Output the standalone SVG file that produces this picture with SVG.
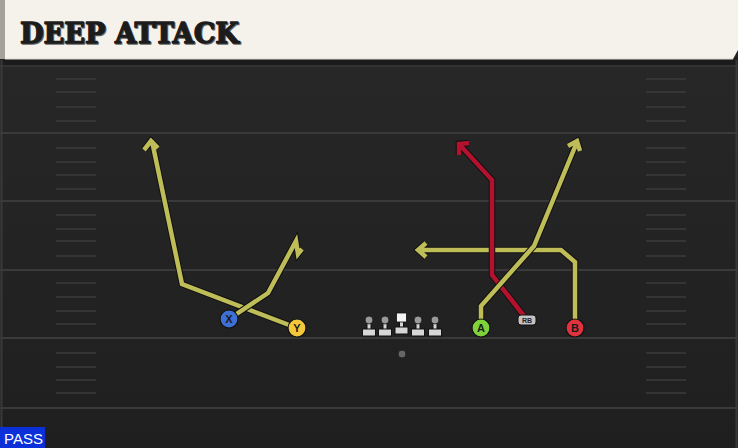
<svg xmlns="http://www.w3.org/2000/svg" width="738" height="448" viewBox="0 0 738 448">
<defs>
<style>
.yl{stroke:#3a3a3a;stroke-width:2}
.hm{stroke:#3b3b3b;stroke-width:1.5}
.rt-o{fill:none;stroke:#111;stroke-width:6.5;stroke-linejoin:miter;stroke-linecap:butt}
.rt-y{fill:none;stroke:#bfbd58;stroke-width:4.5;stroke-linejoin:miter;stroke-linecap:butt}
.rt-r{fill:none;stroke:#b3122f;stroke-width:4.5;stroke-linejoin:miter;stroke-linecap:butt}
.pl{stroke:#111;stroke-width:1.2}
.lbl{font-family:"Liberation Sans",Arial,sans-serif;font-weight:bold;font-size:11px;fill:#1a1a1a;text-anchor:middle}
.ol{fill:#d6d6d6;stroke:#111;stroke-width:1}
.oh{fill:#9a9a9a;stroke:#111;stroke-width:0.8}
.ttl{font-family:"DejaVu Serif","Liberation Serif",serif;font-weight:bold;font-size:28px;stroke-width:1.3;stroke-linejoin:round}
</style>
<linearGradient id="fld" x1="0" y1="0" x2="0" y2="1">
<stop offset="0" stop-color="#272727"/>
<stop offset="1" stop-color="#1f1f1f"/>
</linearGradient>
</defs>
<rect x="0" y="0" width="738" height="448" fill="#222"/>
<rect x="0" y="60" width="738" height="388" fill="url(#fld)"/>
<rect x="0" y="60" width="738" height="5" fill="#1b1b1b"/>
<g id="field">
<line class="yl" x1="0" y1="66" x2="738" y2="66" stroke-opacity="0.6"/>
<line class="yl" x1="0" y1="133" x2="738" y2="133"/>
<line class="yl" x1="0" y1="201" x2="738" y2="201"/>
<line class="yl" x1="0" y1="270" x2="738" y2="270"/>
<line class="yl" x1="0" y1="338" x2="738" y2="338"/>
<line class="yl" x1="0" y1="408" x2="738" y2="408"/>
<line x1="1.5" y1="60" x2="1.5" y2="448" stroke="#3a3a3a" stroke-width="2"/>
<line x1="736.5" y1="60" x2="736.5" y2="448" stroke="#3a3a3a" stroke-width="2"/>
<g id="hash-left">
<line class="hm" x1="56" y1="79" x2="96" y2="79"/><line class="hm" x1="56" y1="92" x2="96" y2="92"/><line class="hm" x1="56" y1="107" x2="96" y2="107"/><line class="hm" x1="56" y1="121" x2="96" y2="121"/>
<line class="hm" x1="56" y1="148" x2="96" y2="148"/><line class="hm" x1="56" y1="162" x2="96" y2="162"/><line class="hm" x1="56" y1="175" x2="96" y2="175"/><line class="hm" x1="56" y1="189" x2="96" y2="189"/>
<line class="hm" x1="56" y1="215" x2="96" y2="215"/><line class="hm" x1="56" y1="229" x2="96" y2="229"/><line class="hm" x1="56" y1="241" x2="96" y2="241"/><line class="hm" x1="56" y1="256" x2="96" y2="256"/>
<line class="hm" x1="56" y1="283" x2="96" y2="283"/><line class="hm" x1="56" y1="297" x2="96" y2="297"/><line class="hm" x1="56" y1="311" x2="96" y2="311"/><line class="hm" x1="56" y1="324" x2="96" y2="324"/>
<line class="hm" x1="56" y1="353" x2="96" y2="353"/><line class="hm" x1="56" y1="367" x2="96" y2="367"/><line class="hm" x1="56" y1="380" x2="96" y2="380"/><line class="hm" x1="56" y1="393" x2="96" y2="393"/>
</g>
<g id="hash-right">
<line class="hm" x1="646" y1="79" x2="686" y2="79"/><line class="hm" x1="646" y1="92" x2="686" y2="92"/><line class="hm" x1="646" y1="107" x2="686" y2="107"/><line class="hm" x1="646" y1="121" x2="686" y2="121"/>
<line class="hm" x1="646" y1="148" x2="686" y2="148"/><line class="hm" x1="646" y1="162" x2="686" y2="162"/><line class="hm" x1="646" y1="175" x2="686" y2="175"/><line class="hm" x1="646" y1="189" x2="686" y2="189"/>
<line class="hm" x1="646" y1="215" x2="686" y2="215"/><line class="hm" x1="646" y1="229" x2="686" y2="229"/><line class="hm" x1="646" y1="241" x2="686" y2="241"/><line class="hm" x1="646" y1="256" x2="686" y2="256"/>
<line class="hm" x1="646" y1="283" x2="686" y2="283"/><line class="hm" x1="646" y1="297" x2="686" y2="297"/><line class="hm" x1="646" y1="311" x2="686" y2="311"/><line class="hm" x1="646" y1="324" x2="686" y2="324"/>
<line class="hm" x1="646" y1="353" x2="686" y2="353"/><line class="hm" x1="646" y1="367" x2="686" y2="367"/><line class="hm" x1="646" y1="380" x2="686" y2="380"/><line class="hm" x1="646" y1="393" x2="686" y2="393"/>
</g>
</g>
<g id="title">
<polygon points="0,0 738,0 738,50 733,59 0,59" fill="#f5f2eb"/>
<rect x="0" y="0" width="5" height="59" fill="#a3a39b"/>
<line x1="5" y1="59" x2="733" y2="59" stroke="#d8d4c8" stroke-width="1"/>
<text class="ttl" x="21" y="43.5" textLength="219" lengthAdjust="spacingAndGlyphs" fill="#666" stroke="#666">DEEP ATTACK</text>
<text class="ttl" x="20" y="42.5" textLength="219" lengthAdjust="spacingAndGlyphs" fill="#1c1c1c" stroke="#1c1c1c">DEEP ATTACK</text>
</g>
<g id="connectors">
<g id="route-Y">
<path class="rt-o" d="M297,328 L182,284 L152,141 M144,150 L151,141 L158,148"/>
<path class="rt-y" d="M297,328 L182,284 L152,141 M144,150 L151,141 L158,148"/>
</g>
<g id="route-X">
<path class="rt-o" d="M229,319 L268,293 L296,241 L298,254 L302,249"/>
<path class="rt-y" d="M229,319 L268,293 L296,241 L298,254 L302,249"/>
</g>
<g id="route-B">
<path class="rt-o" d="M575,328 L575,262 L561,250 L418,250 M426,243 L418,250 L426,257"/>
<path class="rt-y" d="M575,328 L575,262 L561,250 L418,250 M426,243 L418,250 L426,257"/>
</g>
<g id="route-RB">
<path class="rt-o" d="M524,316 L492,275 L492,180 L460,145 M459,155 L459,144 L469,143"/>
<path class="rt-r" d="M524,316 L492,275 L492,180 L460,145 M459,155 L459,144 L469,143"/>
</g>
<g id="route-A">
<path class="rt-o" d="M481,328 L481,306 L534,246 L577,142 M568,146 L577,141 L580,151"/>
<path class="rt-y" d="M481,328 L481,306 L534,246 L577,142 M568,146 L577,141 L580,151"/>
</g>
</g>
<g id="node-X"><circle class="pl" cx="229" cy="319" r="9" fill="#3e6fd4"/><text class="lbl" x="229" y="323">X</text></g>
<g id="node-Y"><circle class="pl" cx="297" cy="328" r="9" fill="#f2c83a"/><text class="lbl" x="297" y="332">Y</text></g>
<g id="node-A"><circle class="pl" cx="481" cy="328" r="9" fill="#7fd23a"/><text class="lbl" x="481" y="332">A</text></g>
<g id="node-B"><circle class="pl" cx="575" cy="328" r="9" fill="#e2323e"/><text class="lbl" x="575" y="332">B</text></g>
<g id="node-RB"><rect x="518" y="315" width="18" height="10" rx="3" fill="#c4c4c4" stroke="#111" stroke-width="1"/><text x="527" y="323" font-family="'Liberation Sans',Arial,sans-serif" font-weight="bold" font-size="7" fill="#222" text-anchor="middle">RB</text></g>
<g id="node-OL1"><rect class="ol" x="367" y="320" width="4" height="10"/><circle class="oh" cx="369" cy="320" r="4"/><rect class="ol" x="362.5" y="329" width="13" height="7"/></g>
<g id="node-OL2"><rect class="ol" x="383" y="320" width="4" height="10"/><circle class="oh" cx="385" cy="320" r="4"/><rect class="ol" x="378.5" y="329" width="13" height="7"/></g>
<g id="node-C"><rect class="ol" x="399.5" y="321" width="4" height="7"/><rect x="396.5" y="313" width="10" height="9" fill="#f4f4f4" stroke="#111" stroke-width="0.8"/><rect class="ol" x="395" y="327" width="13" height="7"/></g>
<g id="node-OL4"><rect class="ol" x="416" y="320" width="4" height="10"/><circle class="oh" cx="418" cy="320" r="4"/><rect class="ol" x="411.5" y="329" width="13" height="7"/></g>
<g id="node-OL5"><rect class="ol" x="433" y="320" width="4" height="10"/><circle class="oh" cx="435" cy="320" r="4"/><rect class="ol" x="428.5" y="329" width="13" height="7"/></g>
<g id="ball"><circle cx="402" cy="354" r="4" fill="#666" stroke="#222" stroke-width="1"/></g>
<g id="pass-tag"><rect x="0" y="427" width="45" height="21" fill="#0b2fd8"/><text x="4" y="444" font-family="'Liberation Sans',Arial,sans-serif" font-size="15" fill="#fff">PASS</text></g>
</svg>
